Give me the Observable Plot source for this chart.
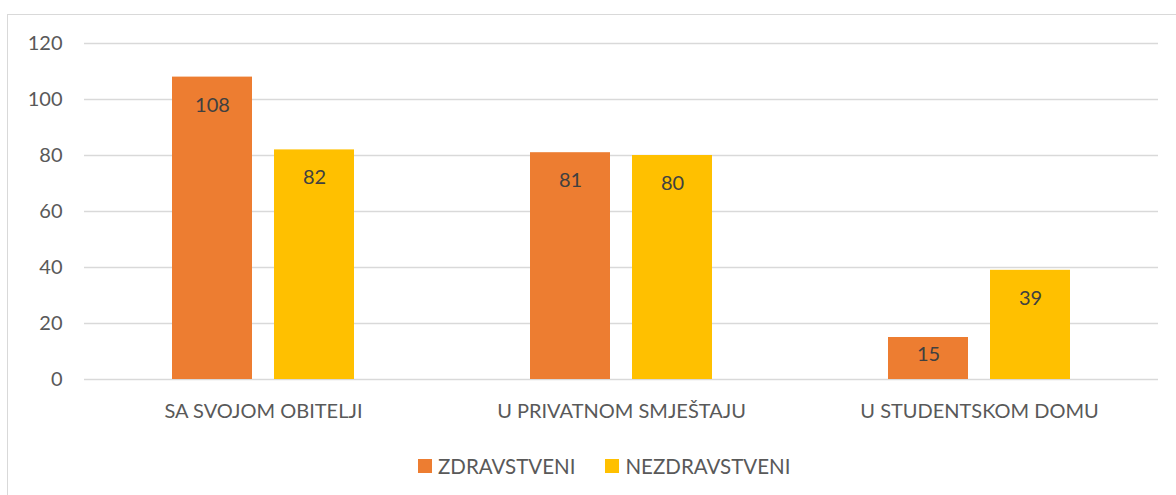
<!DOCTYPE html>
<html>
<head>
<meta charset="utf-8">
<script src="https://cdn.jsdelivr.net/npm/d3@7"></script>
<script src="https://cdn.jsdelivr.net/npm/@observablehq/plot@0.6"></script>
<style>
  html, body { margin: 0; padding: 0; background: #fff; overflow: hidden; }
  body { width: 1176px; height: 495px; position: relative; font-family: Lato, "Noto Sans", sans-serif; }
  #frame { position: absolute; left: 7px; top: 14px; width: 1200px; height: 500px; border: 1px solid #d9d9d9; box-sizing: border-box; }
  #chart { position: absolute; left: 0; top: 0; }
  #legend { position: absolute; left: 418px; top: 454px; display: flex; align-items: center; gap: 30px; font-size: 20.5px; color: #595959; }
  .item { display: flex; align-items: center; gap: 6px; }
  .sw { width: 14px; height: 14px; display: inline-block; }
</style>
</head>
<body>
<div id="frame"></div>
<div id="chart"></div>
<div id="legend"></div>
<script>
const categories = ["SA SVOJOM OBITELJI", "U PRIVATNOM SMJEŠTAJU", "U STUDENTSKOM DOMU"];
const series = ["ZDRAVSTVENI", "NEZDRAVSTVENI"];
const zdravstveni = [108, 81, 15];
const nezdravstveni = [82, 80, 39];
const yTicks = [0, 20, 40, 60, 80, 100, 120];
const colors = ["#ED7D31", "#FFC000"];

const seriesValues = [zdravstveni, nezdravstveni];
const data = [];
categories.forEach((c, i) => {
  series.forEach((s, j) => data.push({cat: c, series: s, value: seriesValues[j][i]}));
});

const chart = Plot.plot({
  width: 1176,
  height: 440,
  marginLeft: 84,
  marginRight: 18,
  marginTop: 43,
  marginBottom: 61,
  style: {fontFamily: "Lato, 'Noto Sans', sans-serif", fontSize: "20px", color: "#595959", background: "transparent"},
  fx: {domain: categories, padding: 0, label: null},
  x: {domain: series, axis: null, paddingInner: 0.2157, paddingOuter: 0.8627},
  y: {domain: [0, 120], label: null},
  color: {domain: series, range: colors},
  marks: [
    Plot.gridY(yTicks, {stroke: "#d9d9d9", strokeOpacity: 1, strokeWidth: 1.5}),
    Plot.barY(data, {fx: "cat", x: "series", y: "value", fill: "series"}),
    Plot.text(data.filter(d => d.value >= 20), {fx: "cat", x: "series", y: "value", text: d => String(d.value), dy: 28, fill: "#404040", fontSize: 20}),
    Plot.text(data.filter(d => d.value < 20), {fx: "cat", x: "series", y: "value", text: d => String(d.value), dy: 17, fill: "#404040", fontSize: 20}),
    Plot.axisY(yTicks, {tickSize: 0, tickPadding: 22, fontSize: 20, label: null}),
    Plot.axisFx({anchor: "bottom", tickSize: 0, tickPadding: 24, fontSize: 20, label: null})
  ]
});
document.getElementById("chart").appendChild(chart);

const legend = document.getElementById("legend");
series.forEach((s, i) => {
  const item = document.createElement("div");
  item.className = "item";
  const sw = document.createElement("span");
  sw.className = "sw";
  sw.style.background = colors[i];
  const t = document.createElement("span");
  t.textContent = s;
  item.appendChild(sw);
  item.appendChild(t);
  legend.appendChild(item);
});
</script>
</body>
</html>
